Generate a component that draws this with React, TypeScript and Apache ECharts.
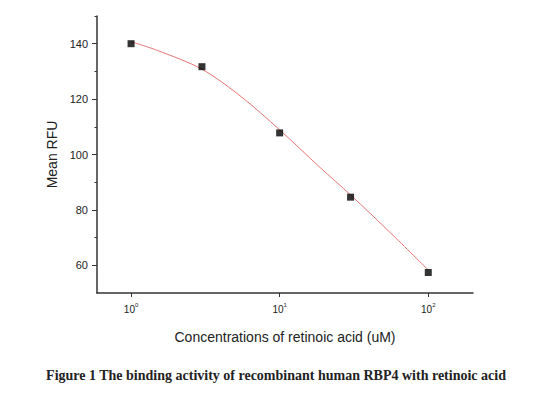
import React, { useEffect, useRef } from "react";
import * as echarts from "echarts";

// Measured data points
const concentrations = [1, 3, 10, 30, 100]; // uM
const meanRFU = [140, 131.7, 107.8, 84.6, 57.4];

// Fitted curve
const fitConc = [1, 1.5, 3, 5.5, 10, 18.8, 30, 56, 100];
const fitRFU = [140.7, 137.6, 130.8, 120.9, 108.9, 95.2, 85.4, 71.6, 58.3];

// Tick labels
const xTickExponents = [0, 1, 2];
const yMajorTicks = [60, 80, 100, 120, 140];
const yMinorTicks = [70, 90, 110, 130, 150];

const caption = "Figure 1 The binding activity of recombinant human RBP4 with retinoic acid";

export default function App() {
  const ref = useRef<HTMLDivElement>(null);
  useEffect(() => {
    const chart = echarts.init(ref.current!, null, { renderer: "svg" });
    const axisColor = "#333";
    const textColor = "#222";
    chart.setOption({
      animation: false,
      backgroundColor: "#fff",
      grid: { left: 97, top: 16, right: 75, bottom: 102 },
      xAxis: {
        type: "value",
        min: Math.log10(0.59),
        max: Math.log10(200),
        name: "Concentrations of retinoic acid (uM)",
        nameLocation: "middle",
        nameGap: 37,
        nameTextStyle: { fontFamily: "Liberation Sans", fontSize: 14, color: textColor },
        axisLine: { show: true, onZero: false, lineStyle: { color: axisColor, width: 1.5 } },
        axisTick: { show: true, length: 4, customValues: xTickExponents, lineStyle: { color: axisColor } },
        axisLabel: {
          customValues: xTickExponents,
          margin: 9,
          formatter: (v: number) => `{b|10}{s|${Math.round(v)}}`,
          rich: {
            b: { fontFamily: "Liberation Sans", fontSize: 10, color: textColor, lineHeight: 12, verticalAlign: "bottom" },
            s: { fontFamily: "Liberation Sans", fontSize: 6, color: textColor, lineHeight: 12, verticalAlign: "top" },
          },
        },
        splitLine: { show: false },
      },
      yAxis: [
        {
          type: "value",
          min: 50,
          max: 150,
          name: "Mean RFU",
          nameLocation: "middle",
          nameGap: 38,
          nameTextStyle: { fontFamily: "Liberation Sans", fontSize: 14, color: textColor },
          axisLine: { show: true, onZero: false, lineStyle: { color: axisColor, width: 1.5 } },
          axisTick: { show: true, length: 5, customValues: yMajorTicks, lineStyle: { color: axisColor } },
          axisLabel: {
            customValues: yMajorTicks,
            margin: 9,
            fontFamily: "Liberation Sans",
            fontSize: 11,
            color: textColor,
          },
          splitLine: { show: false },
        },
        {
          type: "value",
          min: 50,
          max: 150,
          position: "left",
          axisLine: { show: false, onZero: false },
          axisTick: { show: true, length: 2.5, customValues: yMinorTicks, lineStyle: { color: axisColor } },
          axisLabel: { show: false },
          splitLine: { show: false },
        },
      ],
      series: [
        {
          type: "line",
          data: fitConc.map((c, i) => [Math.log10(c), fitRFU[i]]),
          smooth: 0.3,
          showSymbol: false,
          lineStyle: { color: "#e57373", width: 1 },
          z: 1,
        },
        {
          type: "scatter",
          data: concentrations.map((c, i) => [Math.log10(c), meanRFU[i]]),
          symbol: "rect",
          symbolSize: 7,
          itemStyle: { color: "#000" },
          z: 2,
        },
      ],
      graphic: [
        {
          type: "text",
          x: 276,
          y: 375,
          style: {
            text: caption,
            textAlign: "center",
            textVerticalAlign: "middle",
            font: "bold 14px 'Liberation Serif'",
            fill: "#222",
          },
        },
      ],
    });
    return () => chart.dispose();
  }, []);
  return (
    <div
      ref={ref}
      style={{ position: "fixed", left: 0, top: 0, width: 548, height: 395 }}
    />
  );
}
